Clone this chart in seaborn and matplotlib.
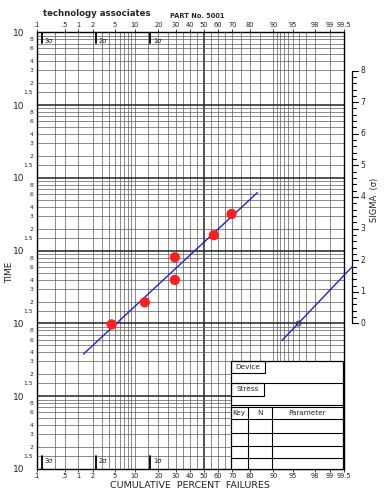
"""
Lognormal probability paper (technology associates, part no. 5001)
with six failure points, least-squares line and sigma reference scale.
"""

import numpy as np
import pandas as pd
import matplotlib
matplotlib.use("Agg")
import matplotlib.pyplot as plt
from matplotlib.patches import Rectangle
from matplotlib.lines import Line2D
import seaborn as sns
from statistics import NormalDist

# ── Data ──────────────────────────────────────────────────────────────────────
fail_pct  = [4.4, 13.7, 29.5, 29.5, 57.2, 69.4]
fail_time = [97, 195, 396, 811, 1630, 3190]
fit_range_pct = [1.3, 83.8]
ref_sigma = 1.8

pct_tick_vals = [0.1, 0.5, 1, 2, 5, 10, 20, 30, 40, 50, 60, 70, 80, 90, 95, 98, 99, 99.5]
pct_tick_text = [".1", ".5", "1", "2", "5", "10", "20", "30", "40", "50", "60",
                 "70", "80", "90", "95", "98", "99", "99.5"]
pct_grid = [0.3, 0.5, 1, 2, 3, 4, 5, 6, 7, 8, 9, 10, 15, 20, 25, 30, 35, 40, 45, 50,
            55, 60, 65, 70, 75, 80, 85, 90, 91, 92, 93, 94, 95, 96, 97, 98, 99]
time_grid_mult  = [1.5, 2, 3, 4, 5, 6, 7, 8, 9]
time_label_mult = [1.5, 2, 3, 4, 6, 8]
time_label_text = ["1.5", "2", "3", "4", "6", "8"]
n_decades = 6
sigma_scale = [0, 1, 2, 3, 4, 5, 6, 7, 8]
sigma_marks = [-3, -2, -1]

W, H = 384, 496
GRID = "#5a5a5a"
BLUE = "#2020d8"
RED = "#ff1e1e"


def probit(p):
    return NormalDist().inv_cdf(p / 100.0)


def fx(x):
    return x / W


def fy(y):
    return 1 - y / H


sns.set_style("white")
plt.rcParams["font.family"] = ["DejaVu Sans"]

fig = plt.figure(figsize=(W / 100, H / 100), dpi=100)
ax = fig.add_axes([fx(36.7), fy(469), (343.5 - 36.7) / W, (469 - 32.3) / H])
ax.set_yscale("log")
ax.set_xlim(probit(0.1), probit(99.5))
ax.set_ylim(1, 10 ** n_decades)

# ── grid ──
for p in pct_grid:
    bold = p == 50
    ax.axvline(probit(p), color="#222" if bold else GRID,
               lw=1.1 if bold else 0.5, zorder=1)
for k in range(n_decades):
    for m in time_grid_mult:
        ax.axhline(m * 10 ** k, color=GRID, lw=0.5, zorder=1)
    if k > 0:
        ax.axhline(10 ** k, color="#222", lw=1.1, zorder=1)
for s in ax.spines.values():
    s.set_color("black")
    s.set_linewidth(1.0)

# ── ticks ──
ax.set_xticks([probit(v) for v in pct_tick_vals], labels=pct_tick_text)
ax.tick_params(axis="x", top=True, labeltop=True, bottom=True, labelbottom=True,
               length=2, width=0.6, labelsize=4.8, pad=1.2, colors="#222")
ax.set_yticks([10 ** k for k in range(n_decades + 1)],
              labels=["10"] * (n_decades + 1))
minor = [m * 10 ** k for k in range(n_decades) for m in time_label_mult]
ax.set_yticks(minor, labels=time_label_text * n_decades, minor=True)
ax.tick_params(axis="y", which="major", length=0, labelsize=6.5, pad=9, colors="#222")
ax.tick_params(axis="y", which="minor", length=0, labelsize=4.3, pad=2.5, colors="#222")

# sigma marks at top and bottom
xt = ax.get_xaxis_transform()
for s in sigma_marks:
    for y0, y1, yt in [(1, 0.976, 0.980), (0, 0.03, 0.019)]:
        ax.plot([s, s], [y0, y1], color="black", lw=1.3, transform=xt, zorder=4)
        ax.text(s + 0.06, yt, f"{-s}\u03c3", transform=xt, fontsize=4.8,
                va="center", ha="left", color="#222")

# ── data and fit ──
df = pd.DataFrame({"z": [probit(p) for p in fail_pct], "time": fail_time})
coef = np.polyfit(df["z"], np.log10(df["time"]), 1)
line_z = np.array([probit(p) for p in fit_range_pct])
sns.lineplot(x=line_z, y=10 ** np.polyval(coef, line_z), color=BLUE, lw=1.0,
             ax=ax, zorder=4)
sns.scatterplot(data=df, x="z", y="time", color=RED, s=55, edgecolor="none",
                ax=ax, zorder=5)

# ── sigma reference scale ──
z0, t0 = 1.74, 100
zs = z0 + 1
ref_z = np.array([z0 - 0.3, zs])
ax.plot(ref_z, t0 * np.exp(ref_sigma * (ref_z - z0)), color=BLUE, lw=1.0,
        clip_on=False, zorder=4)
ax.plot([z0], [t0], "o", mfc="none", mec="#333", mew=0.7, ms=3.5, zorder=5)
ax.plot([zs, zs], [t0, t0 * np.exp(sigma_scale[-1])], color="black", lw=0.9,
        clip_on=False)
for s in np.arange(0, sigma_scale[-1] + 0.01, 0.2):
    major = abs(s - round(s)) < 1e-6
    ln = 0.11 if major else 0.06
    ax.plot([zs, zs + ln], [t0 * np.exp(s)] * 2, color="black", lw=0.8, clip_on=False)
for s in sigma_scale:
    ax.text(zs + 0.15, t0 * np.exp(s), str(s), fontsize=5.5, va="center",
            ha="left", color="#222", clip_on=False)
fig.text(fx(374), fy(200), "SIGMA  (\u03c3)", rotation=90, fontsize=6,
         ha="center", va="center", color="#222")

# ── labels ──
ax.set_xlabel("")
ax.set_ylabel("")
fig.text(fx(97), fy(13), "technology associates", fontsize=6.8, fontweight="bold",
         fontstretch="condensed", family=["DejaVu Sans"], ha="center", va="center")
fig.text(fx(197), fy(16), "PART No. 5001", fontsize=4.8, fontweight="bold",
         ha="center", va="center")
fig.text(fx(10), fy(272), "TIME", rotation=90, fontsize=6.5, ha="center",
         va="center", color="#222")
fig.text(fx(190), fy(486), "CUMULATIVE  PERCENT  FAILURES", fontsize=6.8,
         ha="center", va="center", color="#222")

# ── data table box ──
def rect(x0, y0, x1, y1, **kw):
    fig.add_artist(Rectangle((fx(x0), fy(y1)), (x1 - x0) / W, (y1 - y0) / H,
                             transform=fig.transFigure, **kw))


def hline(y, x0, x1):
    fig.add_artist(Line2D([fx(x0), fx(x1)], [fy(y), fy(y)], color="black",
                          lw=0.8, transform=fig.transFigure, zorder=6))


def vline(x, y0, y1):
    fig.add_artist(Line2D([fx(x), fx(x)], [fy(y0), fy(y1)], color="black",
                          lw=0.8, transform=fig.transFigure, zorder=6))


tx0, tx1, ty0, ty1 = 230.7, 343.3, 361, 469
rect(tx0, ty0, tx1, ty1, facecolor="white", edgecolor="black", lw=0.9, zorder=5)
rect(tx0, ty0, 265, 373.3, facecolor="none", edgecolor="black", lw=0.8, zorder=6)
hline(382.5, tx0, tx1)
rect(tx0, 382.5, 264.3, 395.7, facecolor="none", edgecolor="black", lw=0.8, zorder=6)
hline(405, tx0, tx1)
hline(407.3, tx0, tx1)
for y in [419.3, 433.3, 446, 458.3]:
    hline(y, tx0, tx1)
vline(247.7, 407.3, ty1)
vline(271.7, 407.3, ty1)
for x, y, s in [(247.8, 367.2, "Device"), (247.5, 389.1, "Stress"),
                (239.2, 413.3, "Key"), (259.7, 413.3, "N"), (307, 413.3, "Parameter")]:
    fig.text(fx(x), fy(y), s, fontsize=5.2, ha="center", va="center", zorder=7)

fig.savefig("out.png", dpi=100)
